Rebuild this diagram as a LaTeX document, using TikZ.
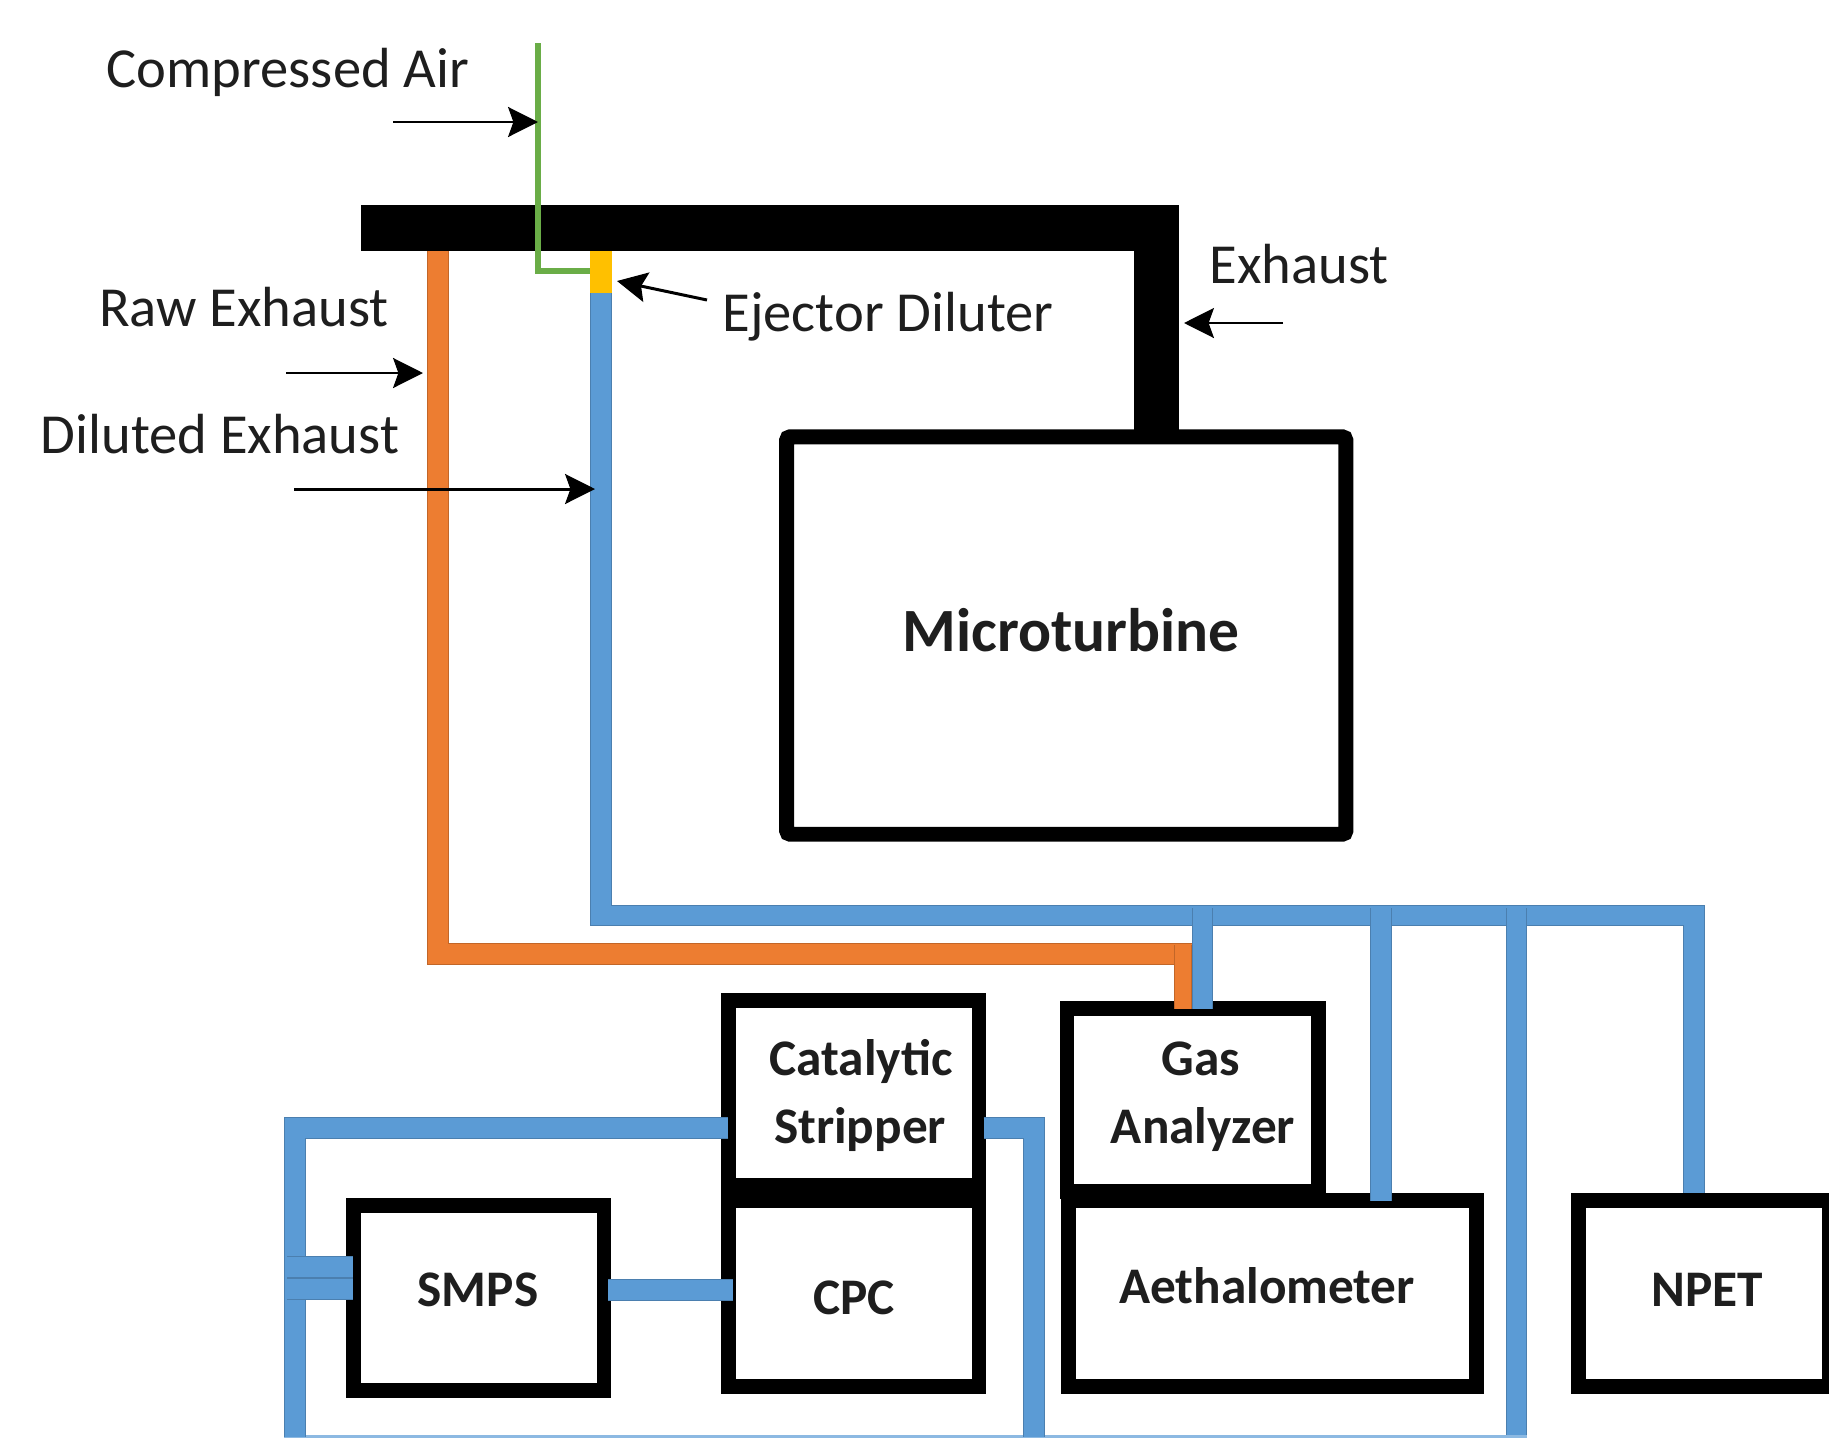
\documentclass[tikz,border=0pt]{standalone}
\usepackage{fontspec}
\setmainfont{Carlito}
\usetikzlibrary{arrows.meta,positioning,calc}
\definecolor{pipeblue}{RGB}{91,155,213}
\definecolor{pipeorange}{RGB}{237,125,49}
\definecolor{pipegreen}{RGB}{106,173,71}
\definecolor{ejectoryellow}{RGB}{255,192,0}
\definecolor{inktext}{RGB}{30,30,30}
\tikzset{
  boxnode/.style={draw=black,line width=8.5pt,rectangle,outer sep=0pt,inner sep=0pt,
    minimum width=#1},
  boxnode/.default=100pt,
  pipe/.style={draw=#1!82!black,double=#1,line width=0.6pt,double distance=11.3pt,line join=miter},
  labeltext/.style={font=\fontsize{32.2}{36}\selectfont,text=inktext,inner sep=0pt},
  boxtext/.style={font=\fontsize{29.2}{32}\selectfont\bfseries,text=inktext,inner sep=0pt},
  callout/.style={-{Stealth[length=17pt,width=17pt,inset=3pt]},line width=1.7pt,draw=black}
}

\begin{document}
\begin{tikzpicture}[x=0.02cm,y=-0.02cm]
    \useasboundingbox (0,0) rectangle (1829,1437);
    % Boxes
    \node[boxnode=318.3pt,minimum height=226.2pt,rounded corners=2pt] (turbine) at (1066.25,635.5) {};
    \node[boxnode=142.6pt,minimum height=104.9pt] (stripper) at (853.75,1093) {};
    \node[boxnode=142.6pt,minimum height=105.5pt] (cpc) at (853.75,1293.5) {};
    \node[boxnode=142.6pt,minimum height=105.2pt] (smps) at (478.75,1297.75) {};
    \node[boxnode=142.9pt,minimum height=104pt] (gas) at (1192.5,1100.25) {};
    \node[boxnode=231.9pt,minimum height=105.5pt] (aeth) at (1272.5,1293.5) {};
    \node[boxnode=142.6pt,minimum height=105.5pt] (npet) at (1703.75,1293.5) {};
    % Levels and free ends of the pipes
    \coordinate (hoodleft) at (361,228);
    \coordinate (hoodcorner) at (1156.5,228);
    \coordinate (airtop) at (538,43);
    \coordinate (aircorner) at (538,271);
    \coordinate (airend) at (590,271);
    \coordinate (rawtop) at (438,251);
    \coordinate (rawcorner) at (438,954);
    \coordinate (rawright) at (1192,954);
    \coordinate (rawdrop) at (1183,945);
    \coordinate (yellowtop) at (601,251);
    \coordinate (yellowend) at (601,293);
    \coordinate (dilcorner) at (601,915.5);
    \coordinate (dilright) at (1694,915.5);
    \coordinate (npetdrop) at (1694,1193);
    \coordinate (gasdrop) at (1202.5,908);
    \coordinate (aethdrop) at (1381,908);
    \coordinate (tallline) at (1516.5,908);
    \coordinate (tallend) at (1516.5,1437);
    \coordinate (striplevel) at (295,1128);
    \coordinate (loopleft) at (295,1437);
    \coordinate (loopright) at (1034,1128);
    \coordinate (loopend) at (1034,1437);
    \coordinate (bottomleft) at (284,1436.5);
    \coordinate (bottomright) at (1527,1436.5);
    \coordinate (smpscpc) at (607,1290);
    \coordinate (smpsuphead) at (287,1267);
    \coordinate (smpsdownhead) at (287,1289);
    % Exhaust duct
    \draw[line width=26pt,line join=miter] (hoodleft) -- (hoodcorner) -- (hoodcorner |- turbine.north);
    % Compressed air
    \draw[draw=pipegreen,line width=3.3pt,line join=miter] (airtop) -- (aircorner) -- (airend);
    % Raw exhaust
    \draw[pipe=pipeorange] (rawtop) -- (rawcorner) -- (rawright);
    \draw[pipe=pipeorange,double distance=9pt] (rawdrop) -- (rawdrop |- gas.north);
    % Diluted exhaust
    \draw[pipe=pipeblue] (yellowend) -- (dilcorner) -- (dilright) -- (npetdrop);
    \draw[pipe=ejectoryellow,draw=ejectoryellow] (yellowtop) -- (yellowend);
    \draw[pipe=pipeblue] (gasdrop) -- (gasdrop |- gas.north);
    \draw[pipe=pipeblue] (aethdrop) -- (aethdrop |- aeth.north);
    \draw[pipe=pipeblue] (tallline) -- (tallend);
    % Stripper and SMPS loop
    \draw[draw=pipeblue!70!white,line width=1.5pt] (bottomleft) -- (bottomright);
    \draw[pipe=pipeblue] (stripper.west |- striplevel) -- (striplevel) -- (loopleft);
    \draw[pipe=pipeblue] ([xshift=2.6pt]stripper.east |- loopright) -- (loopright) -- (loopend);
    \draw[pipe=pipeblue] ([xshift=2.4pt]smps.east |- smpscpc) -- ([xshift=2.4pt]cpc.west |- smpscpc);
    \draw[pipe=pipeblue] (smpsuphead) -- (smps.west |- smpsuphead);
    \draw[pipe=pipeblue] (smpsdownhead) -- (smps.west |- smpsdownhead);
    % Labels
    \node[labeltext] (airlabel) at (288,72.5) {Compressed Air};
    \node[labeltext] (rawlabel) at (244,307) {Raw Exhaust};
    \node[labeltext] (dillabel) at (220,434) {Diluted Exhaust};
    \node[labeltext] (ejectlabel) at (888,316.5) {Ejector Diluter};
    \node[labeltext] (exhaustlabel) at (1299,264) {Exhaust};
    \node[boxtext,font=\fontsize{35}{38}\selectfont\bfseries] (turbinetext) at (1071,630) {Microturbine};
    \node[boxtext] (catatext) at (861,1061) {Catalytic};
    \node[boxtext] (striptext) at (860,1130) {Stripper};
    \node[boxtext] (gastext) at (1201,1059) {Gas};
    \node[boxtext] (anatext) at (1203,1130) {Analyzer};
    \node[boxtext] (smpstext) at (478,1290) {SMPS};
    \node[boxtext] (cpctext) at (854,1298) {CPC};
    \node[boxtext] (aethtext) at (1267,1286) {Aethalometer};
    \node[boxtext] (npettext) at (1707,1290) {NPET};
    % Arrows
    \coordinate (airtail) at (393,122);
    \coordinate (airtip) at (538,122);
    \coordinate (rawtail) at (286,373);
    \coordinate (rawtip) at (423,373);
    \coordinate (diltail) at (294,489);
    \coordinate (diltip) at (595,489);
    \coordinate (ejecttail) at (707,300);
    \coordinate (ejecttip) at (617,281);
    \coordinate (exhausttail) at (1283,323);
    \coordinate (exhausttip) at (1184,323);
    \draw[callout] (airtail) -- (airtip);
    \draw[callout] (rawtail) -- (rawtip);
    \draw[callout] (diltail) -- (diltip);
    \draw[callout] (ejecttail) -- (ejecttip);
    \draw[callout] (exhausttail) -- (exhausttip);
\end{tikzpicture}
\end{document}
